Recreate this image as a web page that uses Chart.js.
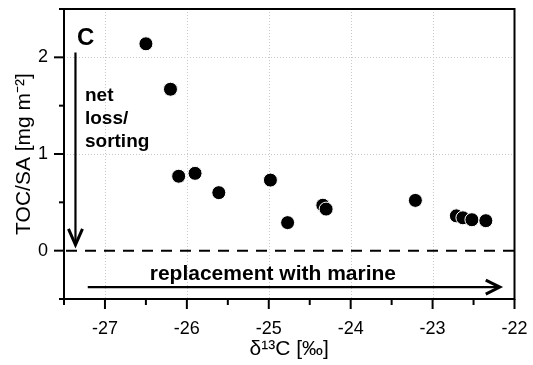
<!DOCTYPE html>
<html>
<head>
<meta charset="utf-8">
<script src="https://cdn.jsdelivr.net/npm/chart.js@4/dist/chart.umd.min.js"></script>
<style>
  html, body { margin: 0; padding: 0; background: #fff; }
  #wrap { width: 533px; height: 365px; }
</style>
</head>
<body>
<div id="wrap"><canvas id="c" width="533" height="365"></canvas></div>
<script>
// ---- data ----
const d13C = [-26.50, -26.20, -26.10, -25.90, -25.61, -24.98, -24.77, -24.34, -24.30, -23.21, -22.71, -22.63, -22.52, -22.35];
const tocSA = [2.14, 1.67, 0.77, 0.80, 0.60, 0.73, 0.29, 0.47, 0.43, 0.52, 0.36, 0.34, 0.32, 0.31];
const xTickLabels = [-27, -26, -25, -24, -23, -22];
const yTickLabels = [0, 1, 2];
const xTitle = 'δ¹³C [‰]';
const yTitle = 'TOC/SA [mg m⁻²]';
const panelLabel = 'C';
const lossLabel = ['net', 'loss/', 'sorting'];
const marineLabel = 'replacement with marine';

const FONT = '"Liberation Sans", Arial, Helvetica, sans-serif';

const points = d13C.map((x, i) => ({ x: x, y: tocSA[i] }));

function chevron(ctx, tipX, tipY, dir, len, half) {
  ctx.beginPath();
  if (dir === 'down') {
    ctx.moveTo(tipX - half, tipY - len);
    ctx.lineTo(tipX, tipY);
    ctx.lineTo(tipX + half, tipY - len);
  } else {
    ctx.moveTo(tipX - len, tipY - half);
    ctx.lineTo(tipX, tipY);
    ctx.lineTo(tipX - len, tipY + half);
  }
  ctx.stroke();
}

const decor = {
  id: 'decor',
  beforeDatasetsDraw(chart) {
    const { ctx, chartArea: a, scales: { x, y } } = chart;
    ctx.save();
    // dotted grid at integer values
    ctx.strokeStyle = '#c8c8c8';
    ctx.lineWidth = 1;
    ctx.setLineDash([1, 2]);
    xTickLabels.forEach(v => {
      const px = Math.round(x.getPixelForValue(v)) + 0.5;
      if (px > a.left + 2 && px < a.right - 2) {
        ctx.beginPath(); ctx.moveTo(px, a.top); ctx.lineTo(px, a.bottom); ctx.stroke();
      }
    });
    yTickLabels.forEach(v => {
      if (v === 0) return;
      const py = Math.round(y.getPixelForValue(v)) + 0.5;
      ctx.beginPath(); ctx.moveTo(a.left, py); ctx.lineTo(a.right, py); ctx.stroke();
    });
    // dashed zero line
    ctx.strokeStyle = '#000';
    ctx.lineWidth = 2;
    ctx.setLineDash([11, 8]);
    const y0 = y.getPixelForValue(0);
    ctx.beginPath(); ctx.moveTo(a.left + 2, y0); ctx.lineTo(a.right, y0); ctx.stroke();
    ctx.restore();
  },
  afterDatasetsDraw(chart) {
    const { ctx, chartArea: a, scales: { x, y } } = chart;
    ctx.save();
    ctx.strokeStyle = '#000';
    ctx.fillStyle = '#000';
    ctx.lineWidth = 2;
    ctx.setLineDash([]);
    // frame
    ctx.strokeRect(a.left, a.top, a.right - a.left, a.bottom - a.top);
    // x ticks
    for (let v = x.min; v <= x.max + 1e-9; v += 0.5) {
      const px = x.getPixelForValue(v);
      const major = Math.abs(v - Math.round(v)) < 1e-6;
      ctx.beginPath(); ctx.moveTo(px, a.bottom); ctx.lineTo(px, a.bottom + (major ? 10 : 6)); ctx.stroke();
    }
    // y ticks
    for (let v = y.min; v <= y.max + 1e-9; v += 0.5) {
      const py = y.getPixelForValue(v);
      const major = Math.abs(v - Math.round(v)) < 1e-6;
      ctx.beginPath(); ctx.moveTo(a.left, py); ctx.lineTo(a.left - (major ? 10 : 5), py); ctx.stroke();
    }
    // vertical arrow
    ctx.lineWidth = 2.2;
    const ax = x.getPixelForValue(-27.36);
    const ay1 = y.getPixelForValue(2.05), ay2 = y.getPixelForValue(0.06);
    ctx.beginPath(); ctx.moveTo(ax, ay1); ctx.lineTo(ax, ay2 - 1); ctx.stroke();
    ctx.lineWidth = 3;
    chevron(ctx, ax, ay2, 'down', 16, 7);
    // horizontal arrow
    ctx.lineWidth = 2.2;
    const hy = y.getPixelForValue(-0.377);
    const hx1 = x.getPixelForValue(-27.21), hx2 = x.getPixelForValue(-22.18);
    ctx.beginPath(); ctx.moveTo(hx1, hy); ctx.lineTo(hx2 - 1, hy); ctx.stroke();
    ctx.lineWidth = 3;
    chevron(ctx, hx2, hy, 'right', 14, 7);
    // texts
    ctx.textBaseline = 'alphabetic';
    ctx.textAlign = 'left';
    ctx.font = 'bold 24px ' + FONT;
    ctx.fillText(panelLabel, x.getPixelForValue(-27.34), y.getPixelForValue(2.127));
    ctx.font = 'bold 19px ' + FONT;
    const lossY = [1.551, 1.31, 1.075];
    lossLabel.forEach((t, i) => ctx.fillText(t, x.getPixelForValue(-27.244), y.getPixelForValue(lossY[i])));
    ctx.font = 'bold 21px ' + FONT;
    ctx.textAlign = 'center';
    ctx.fillText(marineLabel, x.getPixelForValue(-24.95), y.getPixelForValue(-0.303));
    ctx.restore();
  }
};

new Chart(document.getElementById('c'), {
  type: 'scatter',
  data: {
    datasets: [{
      data: points,
      pointRadius: 7,
      pointHoverRadius: 7,
      pointBackgroundColor: '#000',
      pointBorderColor: '#fff',
      pointBorderWidth: 1
    }]
  },
  options: {
    responsive: false,
    animation: false,
    events: [],
    layout: { padding: { top: 9, right: 18.5, left: 0, bottom: 0 } },
    plugins: { legend: { display: false }, tooltip: { enabled: false } },
    scales: {
      x: {
        type: 'linear',
        min: -27.5, max: -22,
        afterFit(s) { s.height = 66; s.paddingLeft = 0; s.paddingRight = 0; },
        grid: { display: false, drawTicks: false },
        border: { display: false },
        ticks: {
          stepSize: 0.5, autoSkip: false, maxRotation: 0, padding: 19,
          color: '#000', font: { family: FONT, size: 18 },
          callback: v => xTickLabels.includes(v) ? String(v) : null
        },
        title: { display: true, text: xTitle, color: '#000', font: { family: FONT, size: 21 }, padding: { top: 0, bottom: 3 } }
      },
      y: {
        type: 'linear',
        min: -0.5, max: 2.5,
        afterFit(s) { s.width = 64; s.paddingTop = 0; s.paddingBottom = 0; },
        grid: { display: false, drawTicks: false },
        border: { display: false },
        ticks: {
          stepSize: 0.5, autoSkip: false, padding: 16,
          color: '#000', font: { family: FONT, size: 18 },
          callback: v => yTickLabels.includes(v) ? String(v) : null
        },
        title: { display: true, text: yTitle, color: '#000', font: { family: FONT, size: 21 }, padding: { top: 12, bottom: 0 } }
      }
    }
  },
  plugins: [decor]
});
</script>
</body>
</html>
